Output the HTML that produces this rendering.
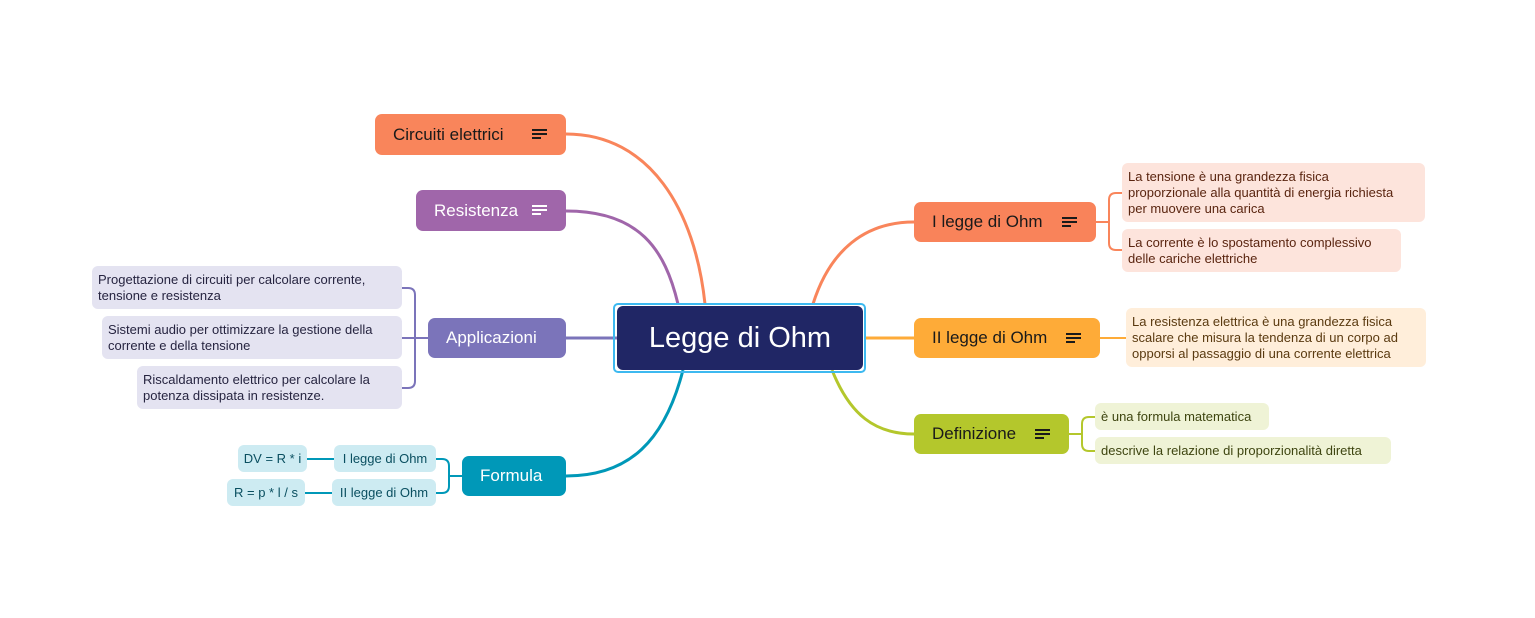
<!DOCTYPE html>
<html><head><meta charset="utf-8"><style>
html,body{margin:0;padding:0;background:#fff;}
body{width:1535px;height:618px;position:relative;overflow:hidden;font-family:"Liberation Sans","DejaVu Sans",sans-serif;}
.n{position:absolute;box-sizing:border-box;border-radius:7px;display:flex;align-items:center;white-space:nowrap;}
.m{font-size:17px;padding-left:18px;padding-right:19px;}
.s{font-size:13px;line-height:16px;border-radius:6px;padding:0 6px;white-space:nowrap;}
.ic{display:inline-block;width:15px;height:11px;margin-left:auto;position:relative;}
.ic i{position:absolute;left:0;height:2px;background:currentColor;}
svg{position:absolute;left:0;top:0;}
</style></head><body>
<svg width="1535" height="618" fill="none" stroke-width="3">
<path d="M705,304 C695,210 650,134 566,134" stroke="#F9855B"/>
<path d="M678,304 C665,250 640,211 566,211" stroke="#A066AA"/>
<path d="M566,338 L617,338" stroke="#7B74BA"/>
<path d="M683,370 C665,440 630,476 566,476" stroke="#0098B8"/>
<path d="M813,304 C830,250 865,222 914,222" stroke="#F9855B"/>
<path d="M864,338 L914,338" stroke="#FEAB38"/>
<path d="M832,370 C850,415 875,434 914,434" stroke="#B4C72C"/>
<g stroke-width="2">
<path d="M1096,222 H1109" stroke="#F9855B"/>
<path d="M1122,193 H1116 Q1109,193 1109,200 V243 Q1109,250 1116,250 H1122" stroke="#F9855B"/>
<path d="M1100,338 H1126" stroke="#FEAB38"/>
<path d="M1069,434 H1082" stroke="#B4C72C"/>
<path d="M1095,417 H1089 Q1082,417 1082,424 V444 Q1082,451 1089,451 H1095" stroke="#B4C72C"/>
<path d="M428,338 H402" stroke="#7B74BA"/>
<path d="M402,288 H408 Q415,288 415,295 V381 Q415,388 408,388 H402" stroke="#7B74BA"/>
<path d="M462,476 H449" stroke="#0098B8"/>
<path d="M436,459 H442 Q449,459 449,466 V486 Q449,493 442,493 H436" stroke="#0098B8"/>
<path d="M307,459 H334" stroke="#0098B8"/>
<path d="M305,493 H332" stroke="#0098B8"/>
</g>
</svg>

<div class="n" style="left:613px;top:303px;width:253px;height:70px;border:2px solid #3DB9F0;border-radius:5px;"></div>
<div class="n" style="left:617px;top:306px;width:246px;height:64px;background:#202665;color:#fff;font-size:29px;justify-content:center;border-radius:6px;">Legge di Ohm</div>

<div class="n m" style="left:375px;top:114px;width:191px;height:41px;background:#F9855B;color:#1a1a1a;">Circuiti elettrici<span class="ic"><i style="top:0;width:15px"></i><i style="top:4px;width:15px"></i><i style="top:8px;width:9px"></i></span></div>
<div class="n m" style="left:416px;top:190px;width:150px;height:41px;background:#A066AA;color:#fff;">Resistenza<span class="ic"><i style="top:0;width:15px"></i><i style="top:4px;width:15px"></i><i style="top:8px;width:9px"></i></span></div>
<div class="n m" style="left:428px;top:318px;width:138px;height:40px;background:#7B74BA;color:#fff;">Applicazioni</div>
<div class="n m" style="left:462px;top:456px;width:104px;height:40px;background:#0098B8;color:#fff;">Formula</div>

<div class="n m" style="left:914px;top:202px;width:182px;height:40px;background:#F9835A;color:#1a1a1a;">I legge di Ohm<span class="ic"><i style="top:0;width:15px"></i><i style="top:4px;width:15px"></i><i style="top:8px;width:9px"></i></span></div>
<div class="n m" style="left:914px;top:318px;width:186px;height:40px;background:#FEAB38;color:#1a1a1a;">II legge di Ohm<span class="ic"><i style="top:0;width:15px"></i><i style="top:4px;width:15px"></i><i style="top:8px;width:9px"></i></span></div>
<div class="n m" style="left:914px;top:414px;width:155px;height:40px;background:#B4C72C;color:#1a1a1a;">Definizione<span class="ic"><i style="top:0;width:15px"></i><i style="top:4px;width:15px"></i><i style="top:8px;width:9px"></i></span></div>

<div class="n s" style="left:1122px;top:163px;width:303px;height:59px;background:#FDE4DC;color:#5a2510;">La tensione è una grandezza fisica<br>proporzionale alla quantità di energia richiesta<br>per muovere una carica</div>
<div class="n s" style="left:1122px;top:229px;width:279px;height:43px;background:#FDE4DC;color:#5a2510;">La corrente è lo spostamento complessivo<br>delle cariche elettriche</div>
<div class="n s" style="left:1126px;top:308px;width:300px;height:59px;background:#FFEEDA;color:#5a3a10;">La resistenza elettrica è una grandezza fisica<br>scalare che misura la tendenza di un corpo ad<br>opporsi al passaggio di una corrente elettrica</div>
<div class="n s" style="left:1095px;top:403px;width:174px;height:27px;background:#EFF3D6;color:#3e4510;">è una formula matematica</div>
<div class="n s" style="left:1095px;top:437px;width:296px;height:27px;background:#EFF3D6;color:#3e4510;">descrive la relazione di proporzionalità diretta</div>

<div class="n s" style="left:92px;top:266px;width:310px;height:43px;background:#E4E3F1;color:#262440;">Progettazione di circuiti per calcolare corrente,<br>tensione e resistenza</div>
<div class="n s" style="left:102px;top:316px;width:300px;height:43px;background:#E4E3F1;color:#262440;">Sistemi audio per ottimizzare la gestione della<br>corrente e della tensione</div>
<div class="n s" style="left:137px;top:366px;width:265px;height:43px;background:#E4E3F1;color:#262440;">Riscaldamento elettrico per calcolare la<br>potenza dissipata in resistenze.</div>

<div class="n s" style="left:334px;top:445px;width:102px;height:27px;background:#CDEBF2;color:#0a4f60;justify-content:center;">I legge di Ohm</div>
<div class="n s" style="left:332px;top:479px;width:104px;height:27px;background:#CDEBF2;color:#0a4f60;justify-content:center;">II legge di Ohm</div>
<div class="n s" style="left:238px;top:445px;width:69px;height:27px;background:#CDEBF2;color:#0a4f60;justify-content:center;padding:0;">DV = R * i</div>
<div class="n s" style="left:227px;top:479px;width:78px;height:27px;background:#CDEBF2;color:#0a4f60;justify-content:center;padding:0;">R = p * l / s</div>
</body></html>
